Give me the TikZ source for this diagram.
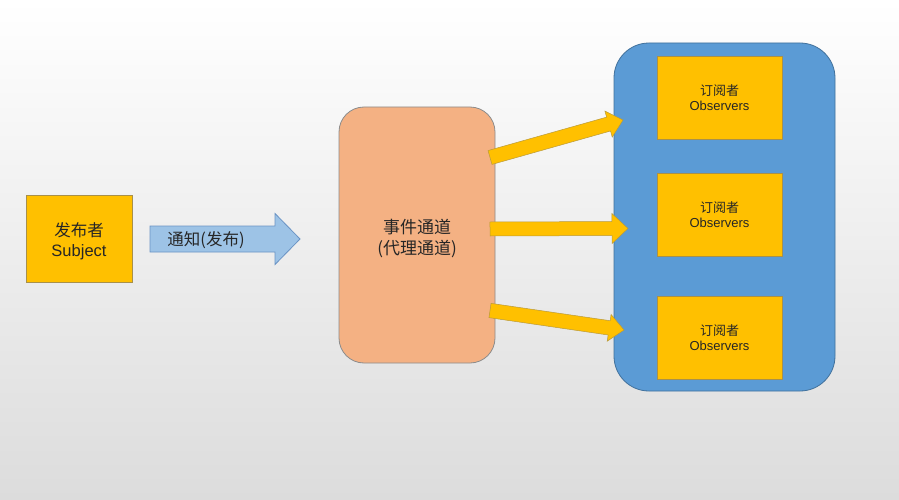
\documentclass[tikz,border=0pt]{standalone}
\usepackage{fontspec}
\setmainfont{Liberation Sans}
\newfontfamily\cjk{Noto Sans CJK SC}
\usetikzlibrary{calc}
\definecolor{bgbot}{HTML}{DCDCDC}
\definecolor{gold}{HTML}{FFC000}
\definecolor{goldline}{HTML}{A8904A}
\definecolor{peach}{HTML}{F4B183}
\definecolor{peachline}{HTML}{8C8C8C}
\definecolor{ctblue}{HTML}{5B9BD5}
\definecolor{ctline}{HTML}{41719C}
\definecolor{ltblue}{HTML}{9DC3E6}
\definecolor{ltline}{HTML}{6A93C4}
\definecolor{txt}{HTML}{262626}
\newcommand\myblockarrow[6]{% start, end, shaft half, head half, head length, style
  \coordinate (ba-base) at ($(#2)!#5!(#1)$);
  \draw[#6] ($(#1)!#3!90:(#2)$) -- ($(ba-base)!#3!-90:(#1)$) -- ($(ba-base)!#4!-90:(#1)$)
    -- (#2) -- ($(ba-base)!#4!90:(#1)$) -- ($(ba-base)!#3!90:(#1)$) -- ($(#1)!#3!-90:(#2)$) -- cycle;
}
\tikzset{
  goldbox/.style={draw=goldline, fill=gold, line width=0.8pt, inner sep=0pt, align=center, text=txt},
  obsbox/.style={goldbox, minimum width=125pt, minimum height=83pt, font=\fontsize{13}{15}\selectfont},
  goldarrow/.style={fill=gold, draw=goldline!80!gold, line width=0.5pt},
  bluearrow/.style={fill=ltblue, draw=ltline, line width=0.8pt},
}
\begin{document}
\begin{tikzpicture}[x=1pt,y=-1pt]
\useasboundingbox (0,0) rectangle (899,500);
\shade[top color=white, bottom color=bgbot] (0,0) rectangle (899,500);

\node[goldbox, minimum width=106pt, minimum height=87pt, font=\fontsize{16.5}{20}\selectfont] (subj) at (79,238.5) {};
\node[text=txt, align=center, inner sep=0pt, font=\fontsize{16.5}{20}\selectfont] (subjtext) at (79,241) {{\cjk 发布者}\\Subject};

\node[draw=peachline, fill=peach, line width=0.8pt, rounded corners=25pt, minimum width=156pt, minimum height=256pt, inner sep=0pt] (chan) at (417,235) {};
\node[text=txt, align=center, inner sep=0pt, font=\cjk\fontsize{17}{21}\selectfont] (chantext) at (417,238) {事件通道\\(代理通道)};

\node[draw=ctline, fill=ctblue, line width=0.8pt, rounded corners=35pt, minimum width=221pt, minimum height=348pt] (cont) at (724.5,217) {};

\node[obsbox] (o1) at (719.5,97.5) {{\cjk 订阅者}\\Observers};
\node[obsbox] (o2) at (719.5,214.5) {{\cjk 订阅者}\\Observers};
\node[obsbox] (o3) at (719.5,338) {{\cjk 订阅者}\\Observers};

% notify arrow
\coordinate (nS) at (150,239);
\coordinate (nE) at (300,239);
\myblockarrow{nS}{nE}{13pt}{25.5pt}{25pt}{bluearrow}
\node[text=txt, font=\cjk\fontsize{16.5}{20}\selectfont, anchor=center] (ntext) at (206,240) {通知(发布)};

% yellow arrows
\coordinate (a1S) at (490,157.5);
\coordinate (a1E) at (623,120);
\coordinate (a2S) at (490,229);
\coordinate (a2E) at (628,228.5);
\coordinate (a3S) at (490,310.5);
\coordinate (a3E) at (624,330);
\myblockarrow{a1S}{a1E}{7.2pt}{13.5pt}{15pt}{goldarrow}
\myblockarrow{a2S}{a2E}{7pt}{15pt}{16pt}{goldarrow}
\myblockarrow{a3S}{a3E}{7.2pt}{13.5pt}{15pt}{goldarrow}
\end{tikzpicture}
\end{document}
